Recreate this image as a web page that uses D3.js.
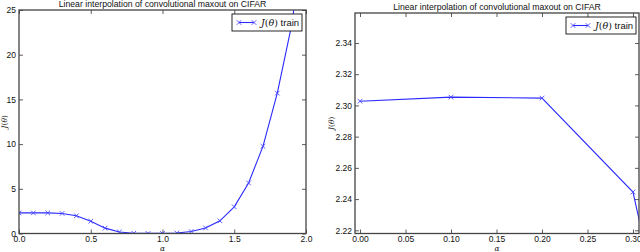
<!DOCTYPE html>
<html>
<head>
<meta charset="utf-8">
<script src="https://cdn.jsdelivr.net/npm/d3@7"></script>
<style>
  body { margin: 0; background: #fff; }
  svg { display: block; font-family: "Liberation Sans", Arial, sans-serif; }
</style>
</head>
<body>
<svg id="chart" width="640" height="252"></svg>
<script>
// interpolation coefficient alpha and training loss J(theta)
const alphas = [0.0, 0.1, 0.2, 0.3, 0.4, 0.5, 0.6, 0.7, 0.8, 0.9, 1.0,
                1.1, 1.2, 1.3, 1.4, 1.5, 1.6, 1.7, 1.8, 1.9, 2.0];
const losses = [2.3027, 2.3053, 2.3047, 2.2445, 1.98, 1.38, 0.6, 0.17, 0.03, 0.01, 0.01,
                0.06, 0.22, 0.62, 1.42, 2.98, 5.65, 9.75, 15.7, 23.3, 35.0];

const titleText = "Linear interpolation of convolutional maxout on CIFAR";
const leftXTicks = [0.0, 0.5, 1.0, 1.5, 2.0];
const leftYTicks = [0, 5, 10, 15, 20, 25];
const rightXTicks = [0.00, 0.05, 0.10, 0.15, 0.20, 0.25, 0.30];
const rightYTicks = [2.22, 2.24, 2.26, 2.28, 2.30, 2.32, 2.34];

const svg = d3.select("#chart");
const points = alphas.map((a, i) => ({ a: a, v: losses[i] }));

function drawPanel(opts) {
  const x = d3.scaleLinear().domain(opts.xDomain).range([opts.left, opts.right]);
  const y = d3.scaleLinear().domain(opts.yDomain).range([opts.bottom, opts.top]);
  const g = svg.append("g");
  const w = opts.right - opts.left, h = opts.bottom - opts.top;

  g.append("clipPath").attr("id", opts.id + "-clip")
    .append("rect").attr("x", opts.left).attr("y", opts.top)
    .attr("width", w).attr("height", h);

  // ticks on all four sides, pointing inward
  const tl = 4;
  const axes = [
    d3.axisBottom(x).tickValues(opts.xTicks).tickFormat(opts.xFmt).tickSizeInner(-tl).tickSizeOuter(0).tickPadding(2),
    d3.axisTop(x).tickValues(opts.xTicks).tickFormat("").tickSizeInner(-tl).tickSizeOuter(0),
    d3.axisLeft(y).tickValues(opts.yTicks).tickFormat(opts.yFmt).tickSizeInner(-tl).tickSizeOuter(0).tickPadding(3),
    d3.axisRight(y).tickValues(opts.yTicks).tickFormat("").tickSizeInner(-tl).tickSizeOuter(0)
  ];
  const shifts = [[0, opts.bottom], [0, opts.top], [opts.left, 0], [opts.right, 0]];
  axes.forEach((ax, i) => {
    const a = g.append("g").attr("transform", `translate(${shifts[i][0]},${shifts[i][1]})`).call(ax);
    a.select(".domain").remove();
    a.selectAll(".tick line").attr("stroke", "#333").attr("stroke-width", 0.8);
    a.selectAll(".tick text").attr("fill", "#111").style("font-size", "8.5px").style("font-family", "inherit");
  });

  // data line and x markers
  const plot = g.append("g").attr("clip-path", `url(#${opts.id}-clip)`);
  plot.append("path").datum(points)
    .attr("fill", "none").attr("stroke", "#2a2aff").attr("stroke-width", 1.1)
    .attr("d", d3.line().x(d => x(d.a)).y(d => y(d.v)));
  const m = 2.3;
  plot.selectAll(".mk").data(points).enter().append("path")
    .attr("class", "mk")
    .attr("fill", "none").attr("stroke", "#4a4aff").attr("stroke-width", 0.9)
    .attr("d", d => {
      const cx = x(d.a), cy = y(d.v);
      return `M${cx - m},${cy - m}L${cx + m},${cy + m}M${cx - m},${cy + m}L${cx + m},${cy - m}`;
    });

  // frame
  g.append("rect").attr("x", opts.left).attr("y", opts.top)
    .attr("width", w).attr("height", h)
    .attr("fill", "none").attr("stroke", "#444").attr("stroke-width", 1.3);

  // title
  g.append("text").attr("x", (opts.left + opts.right) / 2).attr("y", opts.top - 3)
    .attr("text-anchor", "middle").style("font-size", "8.7px").attr("fill", "#111")
    .text(titleText);

  // axis labels
  g.append("text").attr("x", (opts.left + opts.right) / 2).attr("y", 251)
    .attr("text-anchor", "middle").style("font-size", "7.5px")
    .style("font-family", "'DejaVu Serif', serif").style("font-style", "italic")
    .attr("fill", "#111").text("α");
  const yl = g.append("text")
    .attr("transform", `translate(${opts.yLabelX},${(opts.top + opts.bottom) / 2}) rotate(-90)`)
    .attr("text-anchor", "middle").style("font-size", "7.5px")
    .style("font-family", "'DejaVu Serif', serif").attr("fill", "#111");
  yl.append("tspan").style("font-style", "italic").text("J");
  yl.append("tspan").text("(");
  yl.append("tspan").style("font-style", "italic").text("θ");
  yl.append("tspan").text(")");

  // legend
  const lg = g.append("g").attr("transform", `translate(${opts.legend[0]},${opts.legend[1]})`);
  lg.append("rect").attr("width", 70).attr("height", 17)
    .attr("fill", "#fff").attr("stroke", "#111").attr("stroke-width", 0.9);
  lg.append("line").attr("x1", 7).attr("x2", 22).attr("y1", 8.5).attr("y2", 8.5)
    .attr("stroke", "#2a2aff").attr("stroke-width", 1.1);
  [7, 22].forEach(cx => {
    lg.append("path").attr("fill", "none").attr("stroke", "#4a4aff").attr("stroke-width", 0.9)
      .attr("d", `M${cx - m},${8.5 - m}L${cx + m},${8.5 + m}M${cx - m},${8.5 + m}L${cx + m},${8.5 - m}`);
  });
  const lt = lg.append("text").attr("x", 29).attr("y", 12).style("font-size", "9.5px").attr("fill", "#111");
  lt.append("tspan").style("font-family", "'DejaVu Serif', serif").style("font-style", "italic").text("J");
  lt.append("tspan").style("font-family", "'DejaVu Serif', serif").text("(");
  lt.append("tspan").style("font-family", "'DejaVu Serif', serif").style("font-style", "italic").text("θ");
  lt.append("tspan").style("font-family", "'DejaVu Serif', serif").text(")");
  lt.append("tspan").text(" train");
}

drawPanel({
  id: "left", left: 19, right: 306, top: 10, bottom: 233.5,
  xDomain: [0, 2], yDomain: [0, 25],
  xTicks: leftXTicks, yTicks: leftYTicks,
  xFmt: d3.format(".1f"), yFmt: d3.format("d"),
  yLabelX: 7, legend: [232, 14]
});

drawPanel({
  id: "right", left: 355, right: 639, top: 13, bottom: 233.5,
  xDomain: [-0.0055, 0.3066], yDomain: [2.21795, 2.3592],
  xTicks: rightXTicks, yTicks: rightYTicks,
  xFmt: d3.format(".2f"), yFmt: d3.format(".2f"),
  yLabelX: 334, legend: [566, 17]
});
</script>
</body>
</html>
